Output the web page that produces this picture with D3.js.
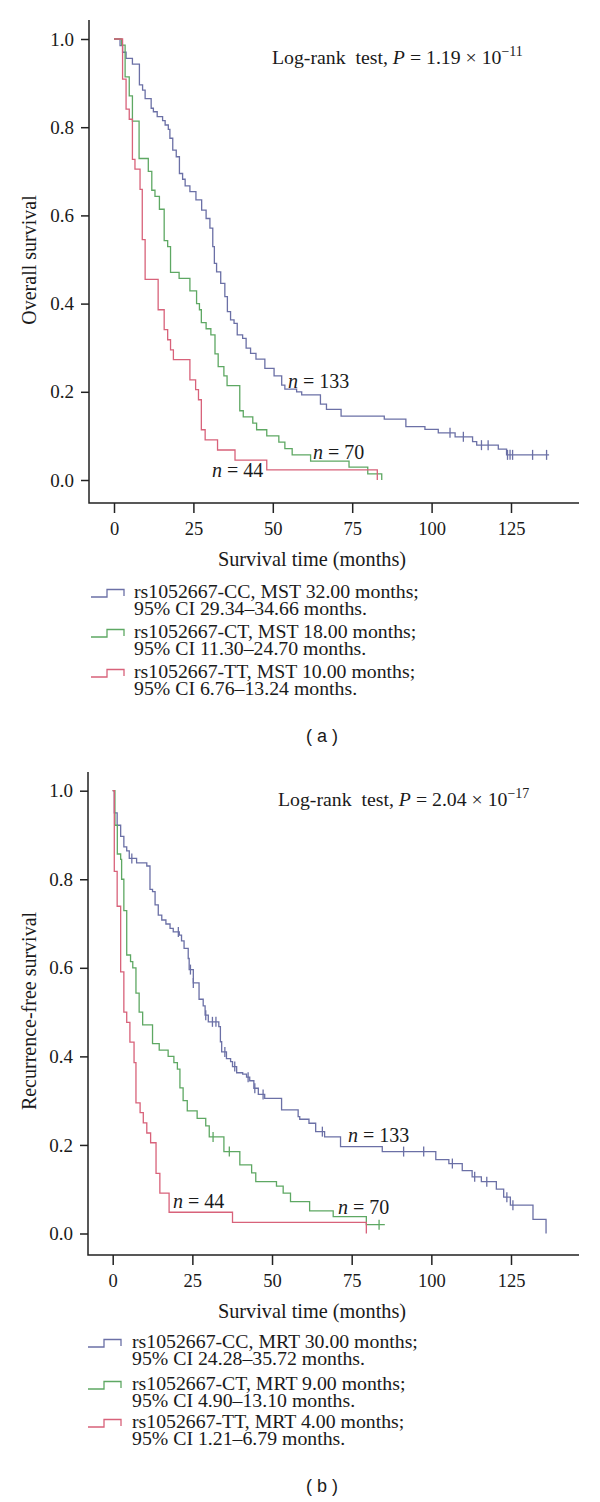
<!DOCTYPE html>
<html><head><meta charset="utf-8">
<script src="https://cdn.jsdelivr.net/npm/d3@7"></script>
<style>
body{margin:0;background:#fff}
svg{display:block}
text{font-family:"Liberation Serif","Times New Roman",serif;fill:#1a1a1a}
</style>
</head><body>
<svg id="c" width="600" height="1502"></svg>
<script>
// ---------- data ----------
const xTicks = [0, 25, 50, 75, 100, 125];
const yTicks = [0, 0.2, 0.4, 0.6, 0.8, 1.0];
const groupNames = ["CC", "CT", "TT"];

// (a) Overall survival: [month, survival] after each drop
const osCC = [[1.9,0.985],[2.7,0.970],[3.8,0.956],[5.8,0.943],[8.0,0.896],[9.0,0.884],[9.8,0.865],[11.7,0.843],[12.4,0.835],[13.6,0.824],[15.3,0.815],[16.1,0.805],[17.1,0.795],[17.6,0.775],[18.5,0.748],[19.6,0.733],[20.6,0.695],[21.6,0.682],[22.4,0.667],[23.9,0.654],[25.8,0.635],[27.6,0.612],[29.0,0.593],[30.2,0.571],[31.1,0.529],[31.6,0.491],[32.3,0.472],[33.6,0.446],[34.9,0.416],[35.7,0.382],[36.7,0.363],[37.8,0.355],[38.8,0.329],[40.5,0.321],[41.6,0.299],[43.0,0.287],[44.7,0.274],[47.5,0.253],[50.4,0.236],[52.8,0.215],[53.8,0.206],[57.5,0.200],[59.1,0.193],[65.0,0.172],[66.9,0.160],[71.5,0.145],[85.1,0.138],[91.9,0.121],[97.9,0.115],[102.1,0.107],[107.4,0.098],[112.9,0.087],[114.2,0.079],[121.0,0.070],[123.6,0.057]];
const osCT = [[2.4,0.986],[3.5,0.914],[4.8,0.871],[5.8,0.814],[7.9,0.729],[10.8,0.700],[11.9,0.657],[12.9,0.643],[14.3,0.614],[15.8,0.543],[16.9,0.529],[17.8,0.471],[20.5,0.457],[23.9,0.429],[26.0,0.400],[26.9,0.386],[27.5,0.357],[29.0,0.343],[30.5,0.329],[31.8,0.286],[32.8,0.257],[34.6,0.236],[35.6,0.214],[39.6,0.157],[40.7,0.143],[43.7,0.129],[44.9,0.114],[48.1,0.100],[51.9,0.086],[53.8,0.071],[56.1,0.057],[61.9,0.043],[74.0,0.029],[79.9,0.014],[84.3,0.0]];
const osTT = [[2.7,0.909],[3.8,0.841],[4.8,0.818],[5.8,0.727],[6.6,0.705],[8.2,0.659],[8.9,0.545],[9.8,0.455],[13.9,0.386],[15.8,0.341],[16.9,0.318],[17.8,0.295],[18.7,0.273],[23.9,0.227],[25.7,0.205],[26.6,0.182],[27.5,0.114],[28.7,0.091],[32.6,0.068],[38.1,0.045],[48.1,0.023],[82.9,0.0]];
const osEnd = [137, 84.3, 82.9];
const osCensCC = [105.8, 110.0, 115.7, 117.8, 123.9, 124.7, 125.5, 131.8, 136.2];
const osCensCT = [];
const osCensTT = [];

// (b) Recurrence-free survival
const rfsCC = [[0.5,0.950],[1.4,0.922],[2.5,0.897],[3.5,0.873],[4.4,0.864],[5.2,0.847],[7.5,0.837],[10.7,0.830],[11.7,0.777],[12.5,0.772],[13.3,0.742],[14.3,0.719],[15.4,0.708],[16.7,0.699],[18.0,0.689],[19.0,0.681],[20.9,0.674],[21.6,0.661],[22.4,0.644],[23.7,0.621],[24.0,0.596],[25.3,0.566],[27.1,0.529],[28.4,0.514],[29.0,0.493],[30.0,0.478],[33.3,0.467],[33.8,0.433],[34.2,0.410],[35.7,0.395],[37.0,0.388],[37.6,0.377],[38.9,0.363],[40.8,0.360],[42.0,0.353],[43.0,0.345],[44.3,0.328],[45.7,0.314],[47.7,0.305],[53.0,0.279],[58.2,0.264],[58.7,0.258],[61.6,0.249],[63.7,0.230],[66.5,0.218],[71.5,0.196],[84.6,0.185],[101.4,0.167],[105.5,0.158],[109.7,0.142],[112.8,0.128],[115.7,0.117],[120.4,0.100],[122.7,0.082],[124.8,0.064],[131.9,0.032],[136.0,0.0]];
const rfsCT = [[0.7,0.922],[1.45,0.857],[2.5,0.845],[2.8,0.800],[3.5,0.729],[4.4,0.629],[5.6,0.614],[6.3,0.600],[7.3,0.543],[8.3,0.500],[9.4,0.471],[12.5,0.429],[14.6,0.414],[17.4,0.400],[19.2,0.386],[20.3,0.371],[21.1,0.329],[22.1,0.300],[23.4,0.277],[26.5,0.260],[29.2,0.243],[30.3,0.218],[34.9,0.185],[39.9,0.155],[43.6,0.137],[44.9,0.117],[51.4,0.107],[53.5,0.091],[55.8,0.072],[61.8,0.051],[69.2,0.038],[79.6,0.020]];
const rfsTT = [[0.5,0.818],[1.4,0.739],[2.5,0.591],[3.5,0.500],[4.4,0.477],[5.4,0.432],[6.7,0.386],[7.3,0.295],[8.6,0.273],[9.6,0.250],[10.7,0.227],[11.9,0.205],[13.6,0.136],[14.8,0.091],[17.7,0.048],[37.6,0.025],[79.6,0.0]];
const rfsEnd = [136.0, 85.4, 79.6];
const rfsCensCC = [6.0, 20.6, 24.4, 25.3, 29.2, 31.3, 32.4, 35.2, 38.3, 42.5, 44.6, 47.2, 65.8, 91.3, 97.6, 106.6, 113.6, 117.4, 123.7, 125.6];
const rfsCensCT = [31.5, 36.6, 83.6];
const rfsCensTT = [];

const nLabels = ["n = 133", "n = 70", "n = 44"];
const legendA = [
  ["rs1052667-CC, MST 32.00 months;", "95% CI 29.34\u201334.66 months."],
  ["rs1052667-CT, MST 18.00 months;", "95% CI 11.30\u201324.70 months."],
  ["rs1052667-TT, MST 10.00 months;", "95% CI 6.76\u201313.24 months."]
];
const legendB = [
  ["rs1052667-CC, MRT 30.00 months;", "95% CI 24.28\u201335.72 months."],
  ["rs1052667-CT, MRT 9.00 months;", "95% CI 4.90\u201313.10 months."],
  ["rs1052667-TT, MRT 4.00 months;", "95% CI 1.21\u20136.79 months."]
];
const pValueA = ["1.19", "\u221211"];
const pValueB = ["2.04", "\u221217"];

// ---------- styles ----------
const colors = ["#6b70a6", "#5ea863", "#d8627a"];
const svg = d3.select("#c");

function survAt(steps, t) {
  let s = 1;
  for (const [tt, ss] of steps) { if (tt <= t) s = ss; else break; }
  return s;
}

function drawPanel(cfg) {
  const g = svg.append("g");
  const x = d3.scaleLinear().domain([0, 125]).range([cfg.x0, cfg.x125]);
  const y = d3.scaleLinear().domain([0, 1]).range([cfg.y0, cfg.y1]);

  // axes lines
  g.append("path").attr("d", `M${cfg.ax},${cfg.yTop}V${cfg.axY}H${cfg.xEnd}`)
    .attr("fill", "none").attr("stroke", "#222").attr("stroke-width", 1.5);

  // y axis ticks
  const yAxis = d3.axisLeft(y).tickValues(yTicks).tickFormat(d3.format(".1f")).tickSize(8).tickPadding(7);
  const ya = g.append("g").attr("transform", `translate(${cfg.ax},0)`).call(yAxis);
  ya.select(".domain").remove();
  ya.selectAll("line").attr("stroke", "#222").attr("stroke-width", 1.5);
  ya.selectAll("text").style("font-size", "19px").attr("fill", "#1a1a1a");

  // x axis ticks
  const xAxis = d3.axisBottom(x).tickValues(xTicks).tickSize(10).tickPadding(9);
  const xa = g.append("g").attr("transform", `translate(0,${cfg.axY})`).call(xAxis);
  xa.select(".domain").remove();
  xa.selectAll("line").attr("stroke", "#222").attr("stroke-width", 1.5);
  xa.selectAll("text").style("font-size", "18.5px").attr("fill", "#1a1a1a");

  // titles
  g.append("text").attr("x", 312).attr("y", cfg.axY + 63).attr("text-anchor", "middle")
    .style("font-size", "20.3px").text("Survival time (months)");
  g.append("text").attr("transform", `translate(36,${cfg.yTitleC}) rotate(-90)`)
    .attr("text-anchor", "middle").style("font-size", "20px").text(cfg.yTitle);

  // header
  const h = g.append("text").attr("x", cfg.hx).attr("y", cfg.hy).style("font-size", "19.8px");
  h.append("tspan").text("Log-rank\u00a0\u00a0test, ");
  h.append("tspan").style("font-style", "italic").text("P");
  h.append("tspan").text(" = " + cfg.p[0] + " \u00d7 10");
  h.append("tspan").attr("dy", -8).style("font-size", "14px").text(cfg.p[1]);

  // curves
  const line = d3.line().x(d => x(d[0])).y(d => y(d[1])).curve(d3.curveStepAfter);
  cfg.series.forEach((steps, i) => {
    const pts = [[0, 1], ...steps];
    const last = steps[steps.length - 1];
    if (cfg.ends[i] > last[0]) pts.push([cfg.ends[i], last[1]]);
    g.append("path").attr("d", line(pts)).attr("fill", "none")
      .attr("stroke", colors[i]).attr("stroke-width", 1.3);
    g.selectAll(null).data(cfg.cens[i]).enter().append("line")
      .attr("x1", d => x(d)).attr("x2", d => x(d))
      .attr("y1", d => y(survAt(steps, d)) - 5).attr("y2", d => y(survAt(steps, d)) + 5)
      .attr("stroke", colors[i]).attr("stroke-width", 1.3);
  });

  // n labels
  cfg.nPos.forEach((p, i) => {
    const t = g.append("text").attr("x", p[0]).attr("y", p[1]).style("font-size", "20px");
    t.append("tspan").style("font-style", "italic").text("n");
    t.append("tspan").text(nLabels[i].slice(1));
  });

  // legend symbols
  cfg.legend.forEach((lines, i) => {
    const b = cfg.legY[i];
    g.append("path")
      .attr("d", `M${cfg.legX0},${b - 1}H${cfg.legX0 + 16}V${b - 8.5}H${cfg.legX0 + 33}V${b - 2}`)
      .attr("fill", "none").attr("stroke", colors[i]).attr("stroke-width", 1.3);
  });
  // legend text as one block (tight line spacing as in the original)
  const lt = g.append("text").style("font-size", "19.8px");
  cfg.legend.forEach((lines, i) => {
    const b = cfg.legY[i];
    lt.append("tspan").attr("x", cfg.legTX).attr("y", b).text(lines[0]);
    lt.append("tspan").attr("x", cfg.legTX).attr("y", b + 16.5).text(lines[1]);
  });

  // panel tag
  g.append("text").attr("x", 322).attr("y", cfg.tagY).attr("text-anchor", "middle")
    .style("font-family", "'Liberation Sans', Arial, sans-serif").style("font-size", "18px")
    .text(cfg.tag);
}

drawPanel({
  x0: 114, x125: 511, y0: 480, y1: 39, ax: 89, yTop: 20, axY: 503, xEnd: 579,
  yTitle: "Overall survival", yTitleC: 260, hx: 272, hy: 64, p: pValueA,
  series: [osCC, osCT, osTT], ends: osEnd, cens: [osCensCC, osCensCT, osCensTT],
  nPos: [[288, 388], [313, 459], [212, 476.5]],
  legend: legendA, legY: [598, 638, 678], legX0: 91, legTX: 134, tagY: 742, tag: "( a )"
});
drawPanel({
  x0: 112.7, x125: 511, y0: 1233.5, y1: 790.7, ax: 88, yTop: 772, axY: 1255, xEnd: 579,
  yTitle: "Recurrence-free survival", yTitleC: 1011, hx: 278, hy: 806, p: pValueB,
  series: [rfsCC, rfsCT, rfsTT], ends: rfsEnd, cens: [rfsCensCC, rfsCensCT, rfsCensTT],
  nPos: [[348, 1142], [338, 1213.5], [173, 1208]],
  legend: legendB, legY: [1348, 1390, 1428], legX0: 88, legTX: 132, tagY: 1492, tag: "( b )"
});
</script>
</body></html>
